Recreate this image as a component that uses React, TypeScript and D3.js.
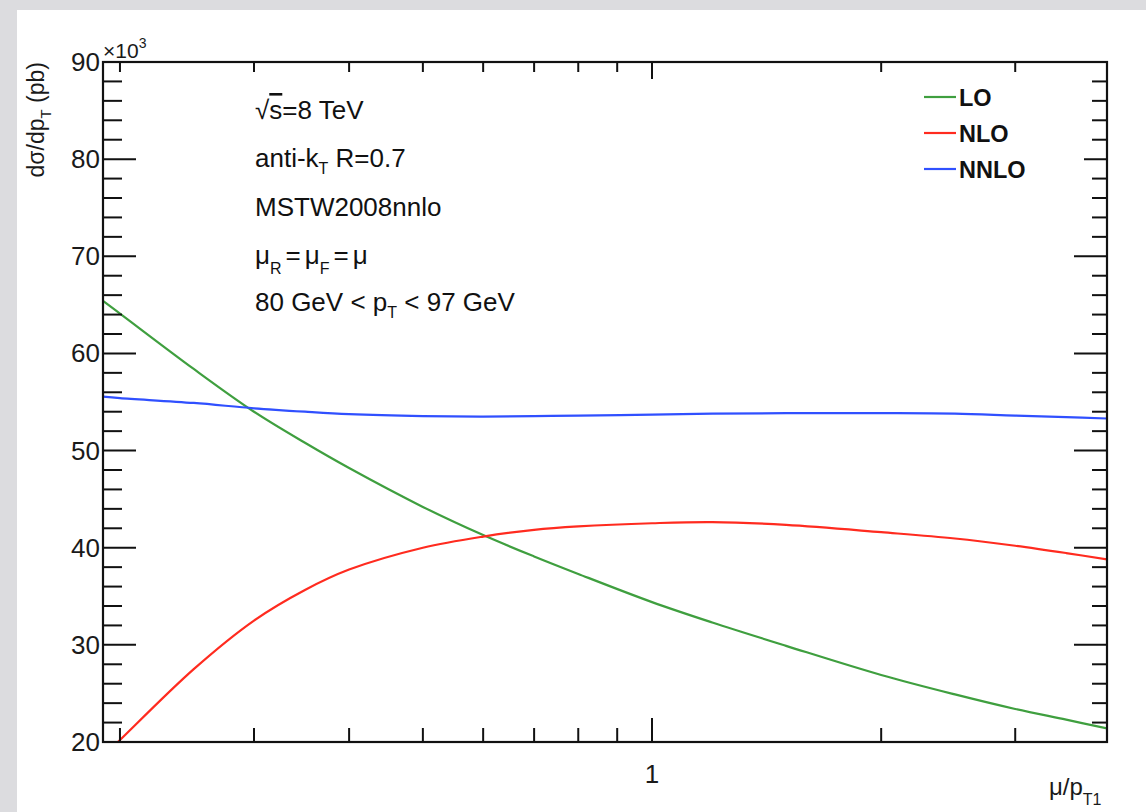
import React from "react";
import * as d3 from "d3";

// Renormalisation/factorisation scale, in units of the leading-jet pT
const muValues = [0.19, 0.2, 0.25, 0.3, 0.35, 0.4, 0.5, 0.6, 0.7, 0.8, 1.0, 1.2, 1.5, 2.0, 2.5, 3.0, 3.5, 3.96];
// dσ/dpT in units of 10^3 pb
const loValues = [65.4, 64.1, 58.4, 54.0, 50.8, 48.2, 44.2, 41.3, 39.1, 37.3, 34.4, 32.3, 29.9, 26.9, 24.9, 23.4, 22.3, 21.4];
const nloValues = [18.5, 20.2, 27.5, 32.5, 35.65, 37.75, 40.0, 41.15, 41.84, 42.19, 42.52, 42.64, 42.35, 41.6, 40.95, 40.2, 39.45, 38.8];
const nnloValues = [55.55, 55.4, 54.9, 54.35, 54.0, 53.75, 53.55, 53.5, 53.55, 53.6, 53.7, 53.8, 53.85, 53.85, 53.8, 53.6, 53.45, 53.3];

const seriesNames = ["LO", "NLO", "NNLO"];
const seriesColors = ["#3f9f3f", "#ff2b1f", "#3050ff"];

const xDomain = [0.19, 3.96];
const yDomain = [20, 90];
const xTickValues = [0.2, 0.3, 0.4, 0.5, 0.6, 0.7, 0.8, 0.9, 1, 2, 3];
const xLabelledTicks = [1];
const yMajorTicks = [20, 30, 40, 50, 60, 70, 80, 90];

const FONT = "'Liberation Sans', Arial, Helvetica, sans-serif";

export default function App() {
  const W = 1146;
  const H = 812;
  const m = { left: 103, right: 1107, top: 62, bottom: 742 };

  const x = d3.scaleLog().domain(xDomain).range([m.left, m.right]);
  const y = d3.scaleLinear().domain(yDomain).range([m.bottom, m.top]);

  const yMinor = d3.range(20, 90, 2).filter((v) => v % 10 !== 0);

  const line = d3
    .line<number>()
    .x((_, i) => x(muValues[i]))
    .y((d) => y(d))
    .curve(d3.curveCatmullRom.alpha(0.5));

  const series = [loValues, nloValues, nnloValues];

  const tickStroke = { stroke: "#111", strokeWidth: 2 };

  return (
    <svg
      width={W}
      height={H}
      style={{ position: "absolute", left: 0, top: 0, fontFamily: FONT }}
    >
      <defs>
        <clipPath id="frame-clip">
          <rect x={m.left} y={m.top} width={m.right - m.left} height={m.bottom - m.top} />
        </clipPath>
      </defs>
      <rect x={0} y={0} width={W} height={H} fill="#dcdcdf" />
      <rect x={17} y={10} width={W - 17} height={H - 10} fill="#ffffff" />

      {/* curves */}
      <g clipPath="url(#frame-clip)">
        {series.map((vals, i) => (
          <path
            key={seriesNames[i]}
            d={line(vals) || ""}
            fill="none"
            stroke={seriesColors[i]}
            strokeWidth={2.2}
          />
        ))}
      </g>

      {/* left axis ticks */}
      {yMajorTicks.map((v) => (
        <line key={"ly" + v} x1={m.left} x2={m.left + 33} y1={y(v)} y2={y(v)} {...tickStroke} />
      ))}
      {yMinor.map((v) => (
        <line key={"lym" + v} x1={m.left} x2={m.left + 19} y1={y(v)} y2={y(v)} {...tickStroke} />
      ))}
      {/* right axis ticks */}
      {yMajorTicks.map((v) => (
        <line key={"ry" + v} x1={m.right} x2={m.right - 33} y1={y(v)} y2={y(v)} {...tickStroke} />
      ))}
      {yMinor.map((v) => (
        <line key={"rym" + v} x1={m.right} x2={m.right - 15} y1={y(v)} y2={y(v)} {...tickStroke} />
      ))}
      {/* bottom and top axis ticks */}
      {xTickValues.map((v) => {
        const major = xLabelledTicks.includes(v);
        return (
          <g key={"x" + v}>
            <line x1={x(v)} x2={x(v)} y1={m.bottom} y2={m.bottom - (major ? 24 : 14)} {...tickStroke} />
            <line x1={x(v)} x2={x(v)} y1={m.top} y2={m.top + (major ? 17 : 10)} {...tickStroke} />
          </g>
        );
      })}

      {/* legend (white box over the right-hand ticks) */}
      <rect x={900} y={76} width={184} height={110} fill="#ffffff" />
      {seriesNames.map((name, i) => {
        const ly = 97 + i * 36;
        return (
          <g key={"leg" + name}>
            <line x1={924} x2={956} y1={ly} y2={ly} stroke={seriesColors[i]} strokeWidth={2.2} />
            <text x={959} y={ly + 8.5} fontSize={23.5} fontWeight="bold" fill="#111">
              {name}
            </text>
          </g>
        );
      })}

      {/* frame */}
      <rect
        x={m.left}
        y={m.top}
        width={m.right - m.left}
        height={m.bottom - m.top}
        fill="none"
        stroke="#111"
        strokeWidth={2.2}
      />

      {/* y tick labels */}
      {yMajorTicks.map((v) => (
        <text key={"yl" + v} x={m.left - 3} y={y(v) + 9} fontSize={26} textAnchor="end" fill="#1a1a1a">
          {v}
        </text>
      ))}
      <text x={103} y={58} fontSize={21} fill="#1a1a1a">
        ×10<tspan fontSize={14} dy={-10}>3</tspan>
      </text>

      {/* x tick labels */}
      {xLabelledTicks.map((v) => (
        <text key={"xl" + v} x={x(v)} y={783} fontSize={26} textAnchor="middle" fill="#1a1a1a">
          {v}
        </text>
      ))}

      {/* axis titles */}
      <text x={1049} y={795} fontSize={24} fill="#1a1a1a">
        μ/p<tspan fontSize={16} dy={10}>T1</tspan>
      </text>
      <text transform={`translate(44, ${m.top}) rotate(-90)`} fontSize={23} textAnchor="end" fill="#1a1a1a">
        dσ/dp<tspan fontSize={15} dy={7}>T</tspan>
        <tspan dy={-7}> (pb)</tspan>
      </text>

      {/* run conditions */}
      <g fontSize={26} fill="#111">
        <text x={255} y={119}>
          √<tspan textDecoration="overline">s</tspan>=8 TeV
        </text>
        <text x={255} y={167}>
          anti-k<tspan fontSize={16} dy={7}>T</tspan>
          <tspan dy={-7}> R=0.7</tspan>
        </text>
        <text x={255} y={216}>MSTW2008nnlo</text>
        <text x={255} y={264}>
          μ<tspan fontSize={16} dy={10}>R</tspan>
          <tspan dy={-10} dx={4}>=</tspan>
          <tspan dx={4}>μ</tspan>
          <tspan fontSize={16} dy={10}>F</tspan>
          <tspan dy={-10} dx={4}>=</tspan>
          <tspan dx={4}>μ</tspan>
        </text>
        <text x={255} y={311}>
          80 GeV &lt; p<tspan fontSize={16} dy={7}>T</tspan>
          <tspan dy={-7}> &lt; 97 GeV</tspan>
        </text>
      </g>
    </svg>
  );
}
